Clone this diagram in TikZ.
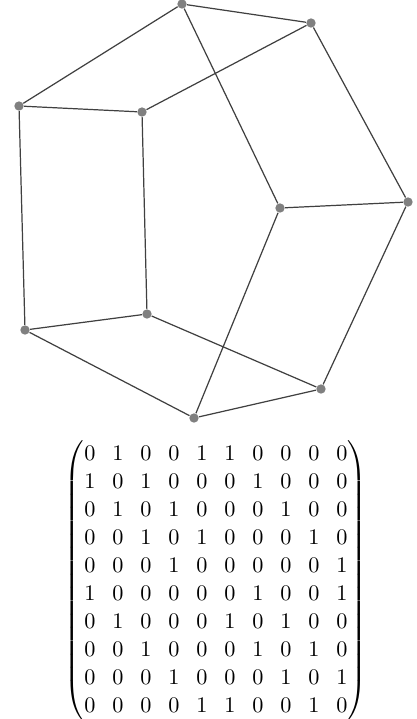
\documentclass[tikz,border=0pt]{standalone}
\begin{document}
\begin{tikzpicture}[x=0.45pt,y=-0.45pt,
  vtx/.style={circle,fill=black!50,inner sep=0pt,minimum size=4.2pt},
  edge/.style={draw=black!75,line width=0.55pt}]
\useasboundingbox (0,0) rectangle (416,719);
\node[vtx] (A) at (182,4) {};
\node[vtx] (B) at (311,23) {};
\node[vtx] (C) at (408,202) {};
\node[vtx] (D) at (321,389) {};
\node[vtx] (E) at (194,418) {};
\node[vtx] (F) at (25,330) {};
\node[vtx] (G) at (19,106) {};
\node[vtx] (H) at (142,112) {};
\node[vtx] (I) at (280,208) {};
\node[vtx] (J) at (147,314) {};
\foreach \u/\v in {A/B,B/C,C/D,D/E,E/F,F/G,G/A,A/I,B/H,G/H,H/J,J/F,J/D,I/C,I/E}
  \draw[edge] (\u) -- (\v);
\node (M) at (216,581) {\setlength\arraycolsep{3.8pt}\renewcommand\arraystretch{1.05}%
$\left(\begin{array}{@{}cccccccccc@{}}
0&1&0&0&1&1&0&0&0&0\\
1&0&1&0&0&0&1&0&0&0\\
0&1&0&1&0&0&0&1&0&0\\
0&0&1&0&1&0&0&0&1&0\\
0&0&0&1&0&0&0&0&0&1\\
1&0&0&0&0&0&1&0&0&1\\
0&1&0&0&0&1&0&1&0&0\\
0&0&1&0&0&0&1&0&1&0\\
0&0&0&1&0&0&0&1&0&1\\
0&0&0&0&1&1&0&0&1&0
\end{array}\right)$};
\end{tikzpicture}
\end{document}
